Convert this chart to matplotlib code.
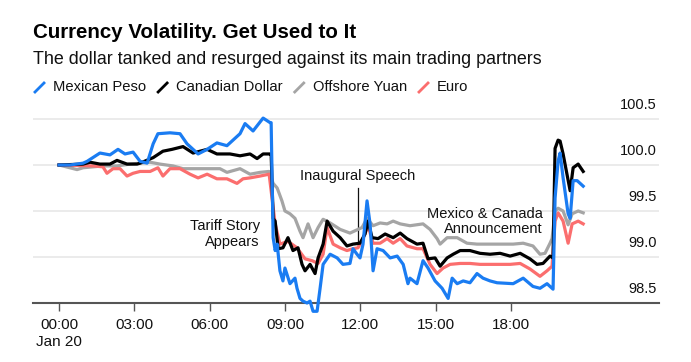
import matplotlib
matplotlib.use("Agg")
import matplotlib.pyplot as plt
from matplotlib.lines import Line2D
from matplotlib.transforms import blended_transform_factory

plt.rcParams['font.family'] = ['Liberation Sans', 'DejaVu Sans']

# ---------------- data (hours since 00:00 Jan 20, index level) ----------------
peso_t = [0.0, 0.44, 0.96, 1.12, 1.63, 2.03, 2.35, 2.63, 2.95, 3.23, 3.51, 3.75, 3.94,
          4.42, 4.82, 5.10, 5.54, 5.90, 6.29, 6.69, 6.81, 7.21, 7.41, 7.73, 8.13, 8.41,
          8.45, 8.53, 8.61, 8.69, 8.80, 8.92, 9.00, 9.20, 9.40, 9.48, 9.60, 9.72, 9.88,
          10.00, 10.12, 10.28, 10.40, 10.52, 10.80, 11.08, 11.31, 11.59, 11.71, 11.87,
          11.99, 12.11, 12.27, 12.39, 12.51, 12.67, 12.91, 13.19, 13.47, 13.71, 13.90,
          13.98, 14.26, 14.50, 14.70, 14.98, 15.26, 15.50, 15.66, 15.86, 16.10, 16.37,
          16.65, 16.89, 17.17, 17.45, 18.09, 18.49, 18.88, 19.16, 19.44, 19.68, 19.76,
          19.88, 19.96, 20.08, 20.28, 20.36, 20.48, 20.64, 20.88]
peso_v = [100.00, 100.00, 100.02, 100.04, 100.13, 100.11, 100.17, 100.12, 100.14, 100.04,
          100.02, 100.23, 100.34, 100.35, 100.34, 100.23, 100.12, 100.17, 100.24, 100.21,
          100.24, 100.34, 100.45, 100.37, 100.51, 100.46, 100.46, 99.21, 99.07, 99.14,
          98.85, 98.74, 98.88, 98.71, 98.77, 98.66, 98.55, 98.52, 98.50, 98.52, 98.41,
          98.41, 98.66, 98.92, 99.03, 98.99, 98.92, 98.93, 99.09, 99.03, 98.99, 99.14,
          99.61, 99.36, 98.85, 99.09, 99.07, 98.99, 99.01, 98.92, 98.71, 98.77, 98.71,
          98.96, 98.88, 98.74, 98.66, 98.55, 98.77, 98.71, 98.74, 98.72, 98.82, 98.77,
          98.74, 98.72, 98.71, 98.77, 98.68, 98.66, 98.71, 98.65, 99.64, 100.04, 100.13,
          99.86, 99.47, 99.42, 99.83, 99.83, 99.77]

cad_t = [0.0, 0.96, 1.24, 1.63, 2.03, 2.31, 2.71, 3.11, 3.23, 3.75, 4.14, 4.50, 4.94, 5.34,
         5.90, 6.29, 6.81, 7.21, 7.61, 7.89, 8.13, 8.37, 8.45, 8.53, 8.61, 8.73, 8.92,
         9.12, 9.32, 9.52, 9.68, 9.80, 10.00, 10.20, 10.32, 10.52, 10.68, 10.92, 11.20,
         11.47, 11.71, 11.99, 12.19, 12.31, 12.47, 12.71, 12.99, 13.31, 13.59, 13.86,
         14.26, 14.50, 14.70, 14.98, 15.18, 15.46, 15.70, 15.98, 16.37, 16.77, 17.17,
         17.57, 17.97, 18.37, 18.76, 19.04, 19.28, 19.56, 19.68, 19.76, 19.88, 19.96,
         20.08, 20.36, 20.48, 20.68, 20.88]
cad_v = [100.00, 100.01, 100.03, 100.01, 100.01, 100.05, 100.01, 100.01, 100.02, 100.08,
         100.15, 100.17, 100.20, 100.13, 100.17, 100.12, 100.12, 100.10, 100.12, 100.07,
         100.12, 100.12, 100.12, 99.42, 99.39, 99.09, 99.10, 99.21, 99.07, 99.10, 98.92,
         98.85, 98.92, 98.82, 98.99, 99.14, 99.39, 99.28, 99.21, 99.12, 99.14, 99.15,
         99.25, 99.39, 99.21, 99.20, 99.25, 99.21, 99.26, 99.20, 99.14, 99.15, 98.98,
         98.99, 98.90, 98.99, 99.03, 99.07, 99.07, 99.04, 99.03, 99.04, 99.01, 99.04,
         98.98, 98.92, 98.93, 99.01, 98.99, 100.18, 100.27, 100.26, 100.12, 99.72, 99.97,
         100.01, 99.93]

yuan_t = [0.0, 0.72, 0.96, 1.35, 1.75, 2.31, 2.83, 3.23, 3.63, 4.02, 4.54, 4.94, 5.34,
          5.90, 6.41, 6.69, 7.21, 7.61, 8.01, 8.37, 8.53, 8.69, 8.88, 9.00, 9.20, 9.40,
          9.60, 9.72, 9.92, 10.12, 10.32, 10.52, 10.80, 11.20, 11.59, 12.07, 12.27, 12.51,
          12.79, 13.07, 13.31, 13.59, 13.98, 14.50, 14.78, 15.06, 15.18, 15.46, 15.86,
          16.25, 16.65, 17.45, 18.09, 18.49, 18.88, 19.16, 19.36, 19.56, 19.64, 19.76,
          19.88, 20.08, 20.28, 20.44, 20.68, 20.88]
yuan_v = [100.00, 99.95, 99.97, 99.98, 99.99, 99.99, 100.01, 100.02, 100.03, 100.01, 99.99,
          99.96, 99.96, 99.96, 99.96, 99.92, 99.96, 99.90, 99.92, 99.93, 99.80, 99.75,
          99.61, 99.50, 99.47, 99.42, 99.28, 99.21, 99.36, 99.21, 99.32, 99.41, 99.37,
          99.30, 99.26, 99.32, 99.42, 99.34, 99.37, 99.36, 99.39, 99.36, 99.34, 99.36,
          99.30, 99.20, 99.14, 99.21, 99.21, 99.15, 99.14, 99.14, 99.14, 99.15, 99.12,
          99.03, 99.04, 99.15, 99.20, 99.50, 99.53, 99.50, 99.35, 99.47, 99.50, 99.48]

euro_t = [0.0, 1.35, 1.75, 1.91, 2.15, 2.43, 2.71, 2.95, 3.23, 3.63, 3.94, 4.14, 4.42,
          4.82, 5.22, 5.54, 5.90, 6.29, 6.69, 7.09, 7.33, 7.61, 8.01, 8.37, 8.61, 8.80,
          9.12, 9.48, 9.80, 10.08, 10.32, 10.52, 10.68, 10.92, 11.20, 11.47, 11.71, 11.91,
          12.11, 12.31, 12.51, 12.79, 13.07, 13.31, 13.59, 13.86, 14.26, 14.50, 14.78,
          15.06, 15.30, 15.58, 15.98, 16.37, 16.77, 17.17, 17.57, 17.97, 18.37, 18.76,
          19.16, 19.44, 19.64, 19.76, 19.88, 20.08, 20.28, 20.44, 20.68, 20.88]
euro_v = [100.00, 99.99, 99.98, 99.91, 99.96, 99.96, 99.88, 99.91, 99.93, 99.93, 99.97,
          99.88, 99.96, 99.96, 99.90, 99.86, 99.90, 99.85, 99.85, 99.80, 99.85, 99.86,
          99.88, 99.90, 99.36, 99.14, 99.17, 99.10, 98.98, 98.96, 98.93, 99.03, 99.32,
          99.14, 99.10, 99.07, 99.09, 99.10, 99.20, 99.34, 99.15, 99.15, 99.20, 99.15,
          99.20, 99.12, 99.09, 99.09, 98.92, 98.82, 98.88, 98.92, 98.93, 98.93, 98.92,
          98.92, 98.92, 98.92, 98.93, 98.87, 98.79, 98.85, 98.90, 99.39, 99.48, 99.39,
          99.15, 99.36, 99.39, 99.36]

series_names = ["Mexican Peso", "Canadian Dollar", "Offshore Yuan", "Euro"]
series_colors = ["#1a7cf2", "#000000", "#a5a5a5", "#fb6e6e"]

tick_hours = [0, 3, 6, 9, 12, 15, 18]
tick_labels = ["00:00\nJan 20", "03:00", "06:00", "09:00", "12:00", "15:00", "18:00"]
y_grid = [99.0, 99.5, 100.0, 100.5]
y_labels = [98.5, 99.0, 99.5, 100.0, 100.5]

W, H = 691, 362
fig = plt.figure(figsize=(W / 100, H / 100), dpi=100)

def fx(px):
    return px / W

def fy(py):
    return 1 - py / H

ax = fig.add_axes([fx(33), fy(303), fx(659) - fx(33), fy(109.8) - fy(303)])
ax.set_xlim(-1.036, 23.9)
ax.set_ylim(98.5, 100.6)

for g in y_grid:
    ax.axhline(g, color="#e9e9e9", lw=1.3, zorder=0)

trans = blended_transform_factory(ax.transAxes, ax.transData)
for v in y_labels:
    ax.text(0.997, v + 0.15, f"{v:.1f}", transform=trans, ha="right", va="center",
            fontsize=10.5, color="#111111")

order = [2, 3, 1, 0]
data = [(peso_t, peso_v), (cad_t, cad_v), (yuan_t, yuan_v), (euro_t, euro_v)]
for z, i in enumerate(order):
    t, v = data[i]
    ax.plot(t, v, color=series_colors[i], lw=2.3, solid_joinstyle="round",
            clip_on=False, zorder=2 + z)

for s in ["top", "right", "left"]:
    ax.spines[s].set_visible(False)
ax.spines["bottom"].set_color("#555555")
ax.spines["bottom"].set_linewidth(1.5)
ax.spines["bottom"].set_zorder(1)
ax.set_yticks([])
ax.set_xticks(tick_hours)
ax.set_xticklabels(tick_labels, fontsize=11, color="#111111", linespacing=1.25)
ax.tick_params(axis="x", length=6, width=1, color="#555555", pad=5)

# annotations
ax.text(8.0, 99.25, "Tariff Story\nAppears", ha="right", va="center", fontsize=10.5,
        multialignment="right", linespacing=1.1, color="#111111", zorder=6)
ax.text(11.91, 99.88, "Inaugural Speech", ha="center", va="center", fontsize=10.5,
        color="#111111", zorder=6)
ax.plot([11.91, 11.91], [99.75, 99.12], color="#111111", lw=0.9, zorder=1.5)
ax.text(19.28, 99.39, "Mexico & Canada\nAnnouncement", ha="right", va="center",
        fontsize=10.5, multialignment="right", linespacing=1.1, color="#111111", zorder=6)

# title / subtitle
fig.text(fx(33), fy(33), "Currency Volatility. Get Used to It", fontsize=14.8,
         fontweight="bold", ha="left", va="center", color="#000000")
fig.text(fx(33), fy(59), "The dollar tanked and resurged against its main trading partners",
         fontsize=12.9, ha="left", va="center", color="#111111")

# legend
fig.canvas.draw()
renderer = fig.canvas.get_renderer()
xpos = 35
for name, col in zip(series_names, series_colors):
    fig.add_artist(Line2D([fx(xpos), fx(xpos + 9)], [fy(92), fy(83)], color=col, lw=2.0,
                          transform=fig.transFigure))
    txt = fig.text(fx(xpos + 18), fy(87), name, fontsize=10.6, ha="left", va="center",
                   color="#111111")
    bb = txt.get_window_extent(renderer=renderer)
    xpos = bb.x1 + 12

fig.savefig("out.png", dpi=100)
